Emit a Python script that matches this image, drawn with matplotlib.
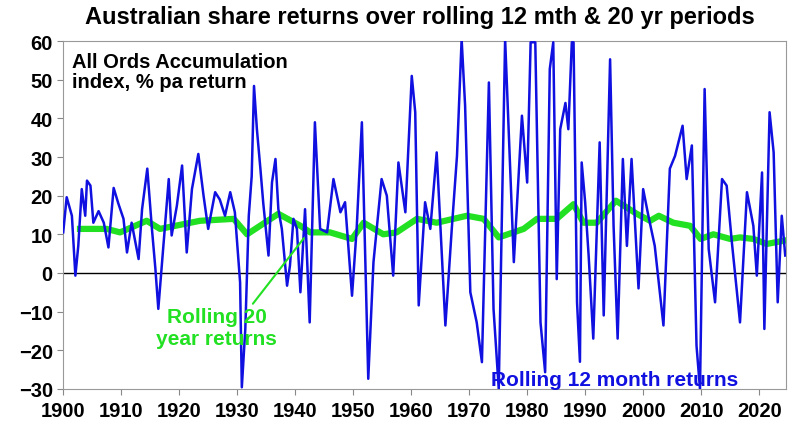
import numpy as np
import matplotlib
matplotlib.use('Agg')
import matplotlib.pyplot as plt

# rolling 12 month returns (year, % pa)
yr12 = [1900,1900.6,1901.5,1902.1,1902.6,1903.2,1903.8,1904.1,1904.7,1905.2,1906.1,1907,1907.8,1908.7,1909.5,
        1910.4,1911,1911.8,1913,1913.6,1914.5,1915.3,1915.9,1916.4,1917,1918.2,1918.7,1919.6,1920.5,1921.3,
        1922.2,1923.3,1924.2,1925,1926.2,1927,1927.9,1928.8,1929.6,1930.5,1930.8,1931.4,1932,1932.5,1932.9,
        1933.4,1934,1934.5,1935.4,1936,1936.6,1937.1,1937.7,1938.6,1939.1,1939.7,1940.3,1940.9,1941.7,1942.5,
        1943.4,1944.3,1945.5,1946.6,1947.8,1948.6,1949.8,1950.6,1951.5,1952.6,1953.5,1954.9,1955.8,1956.9,
        1957.8,1959,1960.1,1960.7,1961.3,1962.4,1963.3,1964.4,1965.9,1967,1967.9,1968.7,1969.3,1970.2,1971.3,
        1972.2,1973.4,1974.2,1975.1,1976.2,1976.8,1977.7,1979.1,1980,1980.6,1981.4,1982.3,1983.1,1983.9,
        1984.5,1985.1,1985.7,1986.6,1987.1,1987.7,1988,1988.6,1989.1,1989.4,1990,1990.6,1991.4,1992.5,1993.2,
        1994.3,1994.9,1995.6,1996.5,1997.2,1998,1999.2,2000,2000.9,2002,2003.5,2004.6,2005.5,2006.8,2007.5,
        2008.4,2009.2,2009.8,2010.6,2011.3,2012.4,2013.6,2014.4,2015.3,2016.7,2017.9,2019,2019.6,2020.5,
        2020.9,2021.8,2022.5,2023.2,2023.9,2024.5]
ret12 = [10.5,19.6,14.8,-0.7,7,21.7,14.8,23.9,22.6,13,16,13,6.6,22,18,
         14,5.3,13,3.6,16.5,27,11.4,1,-9.3,1.9,24.3,9.7,17.4,27.8,5.3,
         21.7,30.8,20,11.4,20.9,19,14.8,20.9,15.7,-2.4,-29.6,-14.5,14.8,25,48.4,
         37.2,27,18,4.5,23.4,29.5,16.5,11.4,-3.3,1.9,14,11.4,-5,16.5,-12.8,
         39,11.4,10.5,24.3,15.7,18.3,-5.9,11.4,39,-27.4,2.8,24.3,20,-0.7,
         28.6,15.7,51,41.6,-8.4,18.3,11.4,31.2,-13.6,11.4,30.3,60.5,43.3,-5,-12.8,
         -23.1,49.3,-9.3,-30,60.5,37.2,2.8,40.7,23.4,59.7,59.7,-12.8,-25.7,52.8,
         59.7,-1.6,37.2,44,37.2,59.7,59.7,-7.6,-23,28.6,18.3,4.5,-17,33.8,-11,
         55.3,12.2,-17,29.5,7,29.5,-4,21.7,14.8,7,-13.6,27,30.3,38.1,24.3,
         33,-18.8,-30,47.6,6.2,-7.6,24.3,22.6,7.9,-12.8,20.9,12.2,-0.7,26,
         -14.5,41.6,31.2,-7.6,14.8,4.5]

# rolling 20 year returns
yr20 = [1902.9,1907.5,1909.8,1914.4,1916.7,1923.6,1929.4,1931.7,1937.1,1940.9,1942.6,1946,1949.8,1951.8,
        1955.2,1957.5,1961,1964.4,1969.6,1972.5,1975.1,1979.4,1981.7,1985.1,1988,1989.7,1992,1995.3,
        1998.9,2001.2,2002.7,2005.2,2008.1,2009.9,2012.1,2015,2016.7,2019,2021.3,2024.5]
ret20 = [11.4,11.4,10.5,13.5,11.4,13.5,14,10,15.3,12.2,10.5,10.5,8.8,13,
         10,10.5,14,13,14.8,14,9.2,11.4,14,14,17.8,13,13,18.7,
         15.3,13.5,14.8,13,12.2,8.8,10,8.8,9.2,8.8,7.5,8.4]

plt.rcParams['font.family'] = ['Liberation Sans', 'DejaVu Sans']
plt.rcParams['font.weight'] = 'bold'

fig = plt.figure(figsize=(8, 4.39), dpi=100)
ax = fig.add_axes([0.079, 0.112, 0.904, 0.792])

ax.plot(yr20, ret20, color='#22e022', lw=4.5, zorder=2)
ax.plot(yr12, ret12, color='#1010e0', lw=1.8, zorder=3)
ax.axhline(0, color='black', lw=1, zorder=1)

ax.set_xlim(1900, 2024.7)
ax.set_ylim(-30, 60)
ax.set_xticks(np.arange(1900, 2021, 10))
ax.set_yticks(np.arange(-30, 61, 10))
ax.tick_params(labelsize=14.5, length=4, color='#888888')
ax.tick_params(axis='x', pad=5)
for lab in ax.get_xticklabels() + ax.get_yticklabels():
    lab.set_fontweight('bold')
for s in ax.spines.values():
    s.set_color('#999999')

fig.text(0.525, 0.96, 'Australian share returns over rolling 12 mth & 20 yr periods',
         ha='center', va='center', fontsize=17, fontweight='bold')
ax.text(0.012, 0.97, 'All Ords Accumulation\nindex, % pa return', transform=ax.transAxes,
        ha='left', va='top', fontsize=14.5, fontweight='bold', linespacing=1.1)
ax.annotate('Rolling 20\nyear returns', xy=(1941.5, 9), xytext=(1926.5, -14),
            ha='center', va='center', fontsize=15, fontweight='bold', color='#22e022',
            arrowprops=dict(arrowstyle='-', color='#22e022', lw=1.5, shrinkA=0, shrinkB=0,
                            relpos=(0.78, 1.0)))
ax.text(1995, -27.5, 'Rolling 12 month returns', ha='center', va='center',
        fontsize=15, fontweight='bold', color='#1010e0')

fig.savefig('out.png', dpi=100)
